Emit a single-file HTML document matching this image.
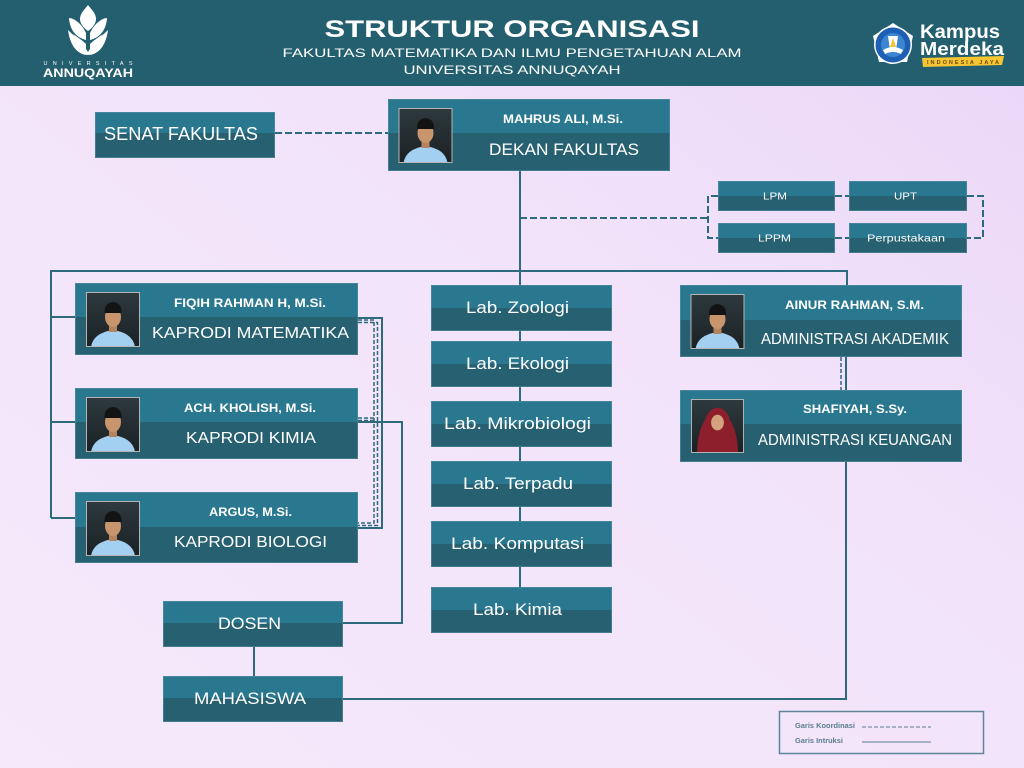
<!DOCTYPE html>
<html>
<head>
<meta charset="utf-8">
<style>
html,body{margin:0;padding:0;width:1024px;height:768px;overflow:hidden;}
svg{display:block;}
</style>
</head>
<body>
<svg width="1024" height="768" viewBox="0 0 1024 768" xmlns="http://www.w3.org/2000/svg" font-family="'Liberation Sans', sans-serif">
<defs>
  <linearGradient id="bg" x1="0" y1="1" x2="1" y2="0">
    <stop offset="0" stop-color="#f5e9fb"/>
    <stop offset="0.6" stop-color="#f2e3fa"/>
    <stop offset="1" stop-color="#ead6f7"/>
  </linearGradient>
  <linearGradient id="pbg" x1="0" y1="0" x2="0" y2="1">
    <stop offset="0" stop-color="#2e3a3e"/>
    <stop offset="1" stop-color="#1a2124"/>
  </linearGradient>
  <symbol id="pm" viewBox="0 0 54 55">
    <rect width="54" height="55" fill="url(#pbg)"/>
    <path d="M5,55 Q7,41 27,38 Q47,41 49,55 Z" fill="#a3cff0"/>
    <rect x="23" y="31" width="8" height="9" fill="#b5835e"/>
    <ellipse cx="27" cy="25" rx="8" ry="10" fill="#c8956c"/>
    <path d="M18.5,21 Q18,11 27,10 Q36,11 35.5,21 Z" fill="#131313"/>
    <rect x="0.5" y="0.5" width="53" height="54" fill="none" stroke="#b5b5b5"/>
  </symbol>
  <symbol id="pf" viewBox="0 0 54 55">
    <rect width="54" height="55" fill="url(#pbg)"/>
    <path d="M6,55 Q7,32 14,22 Q18,9 27,9 Q36,9 40,22 Q47,32 48,55 Z" fill="#8c1f2b"/>
    <ellipse cx="27" cy="24" rx="6.5" ry="8" fill="#d4a27c"/>
    <rect x="0.5" y="0.5" width="53" height="54" fill="none" stroke="#b5b5b5"/>
  </symbol>
</defs>

<!-- background -->
<rect width="1024" height="768" fill="url(#bg)"/>

<!-- header -->
<rect x="0" y="0" width="1024" height="86" fill="#245f6f"/>
<text x="512" y="37" font-size="24" font-weight="bold" fill="#ffffff" text-anchor="middle" textLength="375" lengthAdjust="spacingAndGlyphs">STRUKTUR ORGANISASI</text>
<text x="512" y="57" font-size="12" fill="#ffffff" text-anchor="middle" textLength="459" lengthAdjust="spacingAndGlyphs">FAKULTAS MATEMATIKA DAN ILMU PENGETAHUAN ALAM</text>
<text x="512" y="74" font-size="12" fill="#ffffff" text-anchor="middle" textLength="217" lengthAdjust="spacingAndGlyphs">UNIVERSITAS ANNUQAYAH</text>

<!-- left logo -->
<g fill="#ffffff">
  <path d="M88,5 C84,10 80,14 80,19 C80,24 84,28 88,31 C92,28 96,24 96,19 C96,14 92,10 88,5 Z"/>
  <path d="M69,18 C74,18 82,24 86,33 L86,40 C78,38 70,32 69,18 Z"/>
  <path d="M107,18 C102,18 94,24 90,33 L90,40 C98,38 106,32 107,18 Z"/>
  <path d="M68,30 C70,46 78,55 88,55 C98,55 106,46 108,30 C102,36 94,42 88,52 C82,42 74,36 68,30 Z"/>
  <path d="M73,34 C77,40 83,45 86,52 L86,44 C82,40 77,37 73,34 Z"/>
  <path d="M103,34 C99,40 93,45 90,52 L90,44 C94,40 99,37 103,34 Z"/>
</g>
<text x="88" y="65" font-size="5.5" fill="#ffffff" text-anchor="middle" textLength="89" lengthAdjust="spacing">UNIVERSITAS</text>
<text x="88" y="77" font-size="11.5" font-weight="bold" fill="#ffffff" text-anchor="middle" textLength="90" lengthAdjust="spacingAndGlyphs">ANNUQAYAH</text>

<!-- right logo -->
<g>
  <path d="M893,23 L913,36 L907,62 L879,62 L873,36 Z" fill="#ffffff"/>
  <circle cx="893" cy="45" r="19" fill="#ffffff"/>
  <circle cx="893" cy="45" r="17.5" fill="#1d5fb3"/>
  <circle cx="893" cy="45" r="12" fill="#3b86d2"/>
  <path d="M883,50 Q893,44 903,50 L901,54 Q893,50 885,54 Z" fill="#ffffff"/>
  <path d="M888,36 L898,36 L896,50 L890,50 Z" fill="#ffffff"/>
  <path d="M893,38 L896,47 L890,47 Z" fill="#f4c430"/>
</g>
<text x="920" y="38" font-size="19" font-weight="bold" fill="#ffffff" textLength="80" lengthAdjust="spacingAndGlyphs">Kampus</text>
<text x="920" y="55" font-size="18" font-weight="bold" fill="#ffffff" textLength="84" lengthAdjust="spacingAndGlyphs">Merdeka</text>
<path d="M922,58 L1004,56 L1002,65 L923,67 Z" fill="#f6c531"/>
<text x="963" y="64" font-size="5.5" font-weight="bold" fill="#6b4a10" text-anchor="middle" textLength="72" lengthAdjust="spacing">INDONESIA JAYA</text>

<!-- connector lines -->
<g fill="none" stroke="#2e6a7e" stroke-width="2">
  <!-- solid -->
  <line x1="520" y1="171" x2="520" y2="600"/>
  <polyline points="51,518 51,271 847,271 847,285"/>
  <line x1="51" y1="317" x2="75" y2="317"/>
  <line x1="51" y1="422" x2="75" y2="422"/>
  <line x1="51" y1="518" x2="75" y2="518"/>
  <polyline points="358,318 382,318 382,528 358,528"/>
  <polyline points="358,422 402,422 402,623 343,623"/>
  <line x1="254" y1="647" x2="254" y2="676"/>
  <polyline points="343,699 846,699 846,462"/>
  <line x1="846" y1="357" x2="846" y2="390"/>
</g>
<g fill="none" stroke="#2e6a7e" stroke-width="2" stroke-dasharray="7 3">
  <line x1="275" y1="133" x2="388" y2="133"/>
  <line x1="520" y1="218" x2="708" y2="218"/>
  <polyline points="718,196 708,196 708,238 718,238"/>
  <line x1="835" y1="196" x2="849" y2="196"/>
  <line x1="835" y1="238" x2="849" y2="238"/>
  <polyline points="967,196 983,196 983,238 967,238"/>
</g>
<g fill="none" stroke="#2e6a7e" stroke-width="1.5" stroke-dasharray="4 2">
  <polyline points="358,320 374,320 374,523 358,523"/>
  <polyline points="358,322.5 377.5,322.5 377.5,525.5 358,525.5"/>
  <line x1="358" y1="418" x2="374" y2="418"/>
  <line x1="358" y1="420.5" x2="374" y2="420.5"/>
  <line x1="841" y1="357" x2="841" y2="390"/>
</g>

<!-- boxes -->
<g stroke="none">
  <!-- Senat -->
  <rect x="95" y="112" width="180" height="46" fill="#276070"/><rect x="95" y="112" width="180" height="21" fill="#2a7790"/>
  <!-- Dekan -->
  <rect x="388" y="99" width="282" height="72" fill="#276070"/><rect x="388" y="99" width="282" height="34" fill="#2a7790"/>
  <!-- LPM etc -->
  <rect x="718" y="181" width="117" height="30" fill="#276070"/><rect x="718" y="181" width="117" height="15" fill="#2a7790"/>
  <rect x="849" y="181" width="118" height="30" fill="#276070"/><rect x="849" y="181" width="118" height="15" fill="#2a7790"/>
  <rect x="718" y="223" width="117" height="30" fill="#276070"/><rect x="718" y="223" width="117" height="15" fill="#2a7790"/>
  <rect x="849" y="223" width="118" height="30" fill="#276070"/><rect x="849" y="223" width="118" height="15" fill="#2a7790"/>
  <!-- Kaprodi -->
  <rect x="75" y="283" width="283" height="72" fill="#276070"/><rect x="75" y="283" width="283" height="34" fill="#2a7790"/>
  <rect x="75" y="388" width="283" height="71" fill="#276070"/><rect x="75" y="388" width="283" height="34" fill="#2a7790"/>
  <rect x="75" y="492" width="283" height="71" fill="#276070"/><rect x="75" y="492" width="283" height="35" fill="#2a7790"/>
  <!-- Labs -->
  <rect x="431" y="285" width="181" height="46" fill="#276070"/><rect x="431" y="285" width="181" height="23" fill="#2a7790"/>
  <rect x="431" y="341" width="181" height="46" fill="#276070"/><rect x="431" y="341" width="181" height="23" fill="#2a7790"/>
  <rect x="431" y="401" width="181" height="46" fill="#276070"/><rect x="431" y="401" width="181" height="23" fill="#2a7790"/>
  <rect x="431" y="461" width="181" height="46" fill="#276070"/><rect x="431" y="461" width="181" height="23" fill="#2a7790"/>
  <rect x="431" y="521" width="181" height="46" fill="#276070"/><rect x="431" y="521" width="181" height="23" fill="#2a7790"/>
  <rect x="431" y="587" width="181" height="46" fill="#276070"/><rect x="431" y="587" width="181" height="23" fill="#2a7790"/>
  <!-- Admin -->
  <rect x="680" y="285" width="282" height="72" fill="#276070"/><rect x="680" y="285" width="282" height="35" fill="#2a7790"/>
  <rect x="680" y="390" width="282" height="72" fill="#276070"/><rect x="680" y="390" width="282" height="34" fill="#2a7790"/>
  <!-- Dosen / Mahasiswa -->
  <rect x="163" y="601" width="180" height="46" fill="#276070"/><rect x="163" y="601" width="180" height="22" fill="#2a7790"/>
  <rect x="163" y="676" width="180" height="46" fill="#276070"/><rect x="163" y="676" width="180" height="22" fill="#2a7790"/>
</g>
<g fill="none" stroke="#5b93a5" stroke-opacity="0.55" stroke-width="1">
  <rect x="95.5" y="112.5" width="179" height="45"/>
  <rect x="388.5" y="99.5" width="281" height="71"/>
  <rect x="718.5" y="181.5" width="116" height="29"/>
  <rect x="849.5" y="181.5" width="117" height="29"/>
  <rect x="718.5" y="223.5" width="116" height="29"/>
  <rect x="849.5" y="223.5" width="117" height="29"/>
  <rect x="75.5" y="283.5" width="282" height="71"/>
  <rect x="75.5" y="388.5" width="282" height="70"/>
  <rect x="75.5" y="492.5" width="282" height="70"/>
  <rect x="431.5" y="285.5" width="180" height="45"/>
  <rect x="431.5" y="341.5" width="180" height="45"/>
  <rect x="431.5" y="401.5" width="180" height="45"/>
  <rect x="431.5" y="461.5" width="180" height="45"/>
  <rect x="431.5" y="521.5" width="180" height="45"/>
  <rect x="431.5" y="587.5" width="180" height="45"/>
  <rect x="680.5" y="285.5" width="281" height="71"/>
  <rect x="680.5" y="390.5" width="281" height="71"/>
  <rect x="163.5" y="601.5" width="179" height="45"/>
  <rect x="163.5" y="676.5" width="179" height="45"/>
</g>

<!-- photos -->
<use href="#pm" x="398" y="108" width="55" height="55"/>
<use href="#pm" x="86" y="292" width="54" height="55"/>
<use href="#pm" x="86" y="397" width="54" height="55"/>
<use href="#pm" x="86" y="501" width="54" height="55"/>
<use href="#pm" x="690" y="294" width="55" height="55"/>
<use href="#pf" x="690" y="399" width="55" height="54"/>

<!-- box texts -->
<g fill="#ffffff" text-anchor="middle">
  <text x="181" y="140" font-size="18" textLength="154" lengthAdjust="spacingAndGlyphs">SENAT FAKULTAS</text>
  <text x="563" y="123" font-size="11.5" font-weight="bold" textLength="120" lengthAdjust="spacingAndGlyphs">MAHRUS ALI, M.Si.</text>
  <text x="564" y="155" font-size="16.5" textLength="150" lengthAdjust="spacingAndGlyphs">DEKAN FAKULTAS</text>

  <text x="775" y="199.5" font-size="10.5" textLength="24" lengthAdjust="spacingAndGlyphs">LPM</text>
  <text x="905.5" y="199.5" font-size="10.5" textLength="23" lengthAdjust="spacingAndGlyphs">UPT</text>
  <text x="774.5" y="241.5" font-size="10.5" textLength="33" lengthAdjust="spacingAndGlyphs">LPPM</text>
  <text x="906" y="241.5" font-size="10.5" textLength="78" lengthAdjust="spacingAndGlyphs">Perpustakaan</text>

  <text x="250" y="307" font-size="11.5" font-weight="bold" textLength="152" lengthAdjust="spacingAndGlyphs">FIQIH RAHMAN H, M.Si.</text>
  <text x="250.5" y="338" font-size="16" textLength="197" lengthAdjust="spacingAndGlyphs">KAPRODI  MATEMATIKA</text>
  <text x="250" y="412" font-size="11.5" font-weight="bold" textLength="132" lengthAdjust="spacingAndGlyphs">ACH. KHOLISH, M.Si.</text>
  <text x="251" y="443" font-size="16" textLength="130" lengthAdjust="spacingAndGlyphs">KAPRODI KIMIA</text>
  <text x="250.5" y="516" font-size="11.5" font-weight="bold" textLength="83" lengthAdjust="spacingAndGlyphs">ARGUS, M.Si.</text>
  <text x="250.5" y="547" font-size="16" textLength="153" lengthAdjust="spacingAndGlyphs">KAPRODI BIOLOGI</text>

  <text x="517.5" y="313" font-size="16.5" textLength="103" lengthAdjust="spacingAndGlyphs">Lab. Zoologi</text>
  <text x="517.5" y="369" font-size="16.5" textLength="103" lengthAdjust="spacingAndGlyphs">Lab. Ekologi</text>
  <text x="517.5" y="429" font-size="16.5" textLength="147" lengthAdjust="spacingAndGlyphs">Lab. Mikrobiologi</text>
  <text x="518" y="489" font-size="16.5" textLength="110" lengthAdjust="spacingAndGlyphs">Lab. Terpadu</text>
  <text x="517.5" y="549" font-size="16.5" textLength="133" lengthAdjust="spacingAndGlyphs">Lab. Komputasi</text>
  <text x="517.5" y="615" font-size="16.5" textLength="89" lengthAdjust="spacingAndGlyphs">Lab. Kimia</text>

  <text x="854.5" y="309" font-size="11.5" font-weight="bold" textLength="139" lengthAdjust="spacingAndGlyphs">AINUR RAHMAN, S.M.</text>
  <text x="855" y="344" font-size="15.5" textLength="188" lengthAdjust="spacingAndGlyphs">ADMINISTRASI AKADEMIK</text>
  <text x="855" y="413" font-size="11.5" font-weight="bold" textLength="104" lengthAdjust="spacingAndGlyphs">SHAFIYAH, S.Sy.</text>
  <text x="855" y="445" font-size="15.5" textLength="194" lengthAdjust="spacingAndGlyphs">ADMINISTRASI KEUANGAN</text>

  <text x="249.5" y="629" font-size="16.5" textLength="63" lengthAdjust="spacingAndGlyphs">DOSEN</text>
  <text x="250" y="704" font-size="16.5" textLength="112" lengthAdjust="spacingAndGlyphs">MAHASISWA</text>
</g>

<!-- legend -->
<rect x="779.5" y="711.5" width="204" height="42" fill="none" stroke="#5d8798" stroke-width="1.5"/>
<text x="795" y="728" font-size="7" font-weight="bold" fill="#5a7e8e" textLength="60" lengthAdjust="spacingAndGlyphs">Garis Koordinasi</text>
<text x="795" y="743" font-size="7" font-weight="bold" fill="#5a7e8e" textLength="48" lengthAdjust="spacingAndGlyphs">Garis Intruksi</text>
<line x1="862" y1="727" x2="931" y2="727" stroke="#5a7e8e" stroke-width="1" stroke-dasharray="4 2"/>
<line x1="862" y1="742" x2="931" y2="742" stroke="#5a7e8e" stroke-width="1"/>
</svg>
</body>
</html>
